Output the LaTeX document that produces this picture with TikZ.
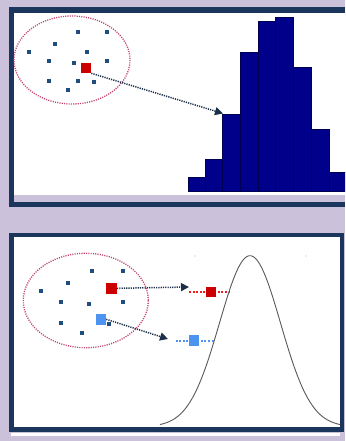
\documentclass[tikz,border=0pt]{standalone}
\usetikzlibrary{arrows.meta}
\definecolor{bgl}{HTML}{CBC1DB}
\definecolor{frame}{HTML}{1B365D}
\definecolor{dotc}{HTML}{1F4E7E}
\definecolor{ellc}{HTML}{C24470}
\definecolor{redsq}{HTML}{CC0000}
\definecolor{bluesq}{HTML}{4D94F0}
\definecolor{barc}{HTML}{00008B}
\definecolor{baredge}{HTML}{000050}
\definecolor{arr}{HTML}{1C2F4A}
\definecolor{brightred}{HTML}{F21C1C}
\tikzset{
  pt/.style={fill=dotc, draw=none, minimum size=4pt, inner sep=0pt, outer sep=0pt, rectangle},
  bigsq/.style={draw=none, minimum size=10.5pt, inner sep=0pt, outer sep=0pt, rectangle},
  ell/.style={draw=ellc, line width=1.3pt, dash pattern=on 1.1pt off 1.2pt},
  link/.style={draw=arr, line width=1.5pt, dash pattern=on 1.2pt off 1.1pt, -{Triangle[length=8pt,width=8pt]}},
  bar/.style={fill=barc, draw=baredge, line width=0.6pt},
  reddash/.style={draw=brightred, line width=2pt, dash pattern=on 2pt off 1.6pt},
  bluedash/.style={draw=bluesq, line width=2pt, dash pattern=on 2pt off 1.6pt}
}
\begin{document}
\begin{tikzpicture}[x=1pt,y=-1pt]
\useasboundingbox (0,0) rectangle (345,441);
\fill[bgl] (0,0) rectangle (345,441);
% ---------- top panel ----------
\fill[frame] (9,7) rectangle (14,206.7);
\fill[frame] (9,7) rectangle (345,12.7);
\fill[frame] (9,201.7) rectangle (345,206.7);
\fill[white] (14,12.7) rectangle (345,195);
\draw[ell] (72,60) ellipse [x radius=58, y radius=44];
\foreach \x/\y in {77.7/32.3,106.7/32.3,55/43.7,29.3/51.7,87.3/51.7,48.7/61.3,74.3/63,106.7/61.3,48.7/80.7,77.7/80.7,93.7/82.3,68/90.3}
  \node[pt] at (\x,\y) {};
\node[bigsq, fill=redsq] (r1) at (86,68) {};
% histogram
\begin{scope}
\clip (14,12.7) rectangle (345,195);
\foreach \a/\b/\t in {188.3/205/177.7, 205/222.7/159, 222.7/240.7/114.3, 240.7/258.7/52.3, 258.7/275.3/21.7, 275.3/293.3/17.3, 293.3/311.3/67.7, 311.3/329.3/129.3, 329.3/348/172.3}
  \draw[bar] (\a,191) rectangle (\b,\t);
\end{scope}
\coordinate (h1) at (223,113.5);
\draw[link] (r1.south east) -- (h1);
% ---------- bottom panel ----------
\fill[frame] (9,232.7) rectangle (344,431.7);
\fill[white] (14,237.3) rectangle (340,426.7);
\fill[white] (11,433.3) rectangle (340,436);
\draw[ell] (85.8,300.5) ellipse [x radius=62.5, y radius=47.2];
\foreach \x/\y in {92.3/271,123.3/271,68/283,40.7/291.3,61.3/302,88.7/303.7,123.3/302,61.3/322.7,109.3/324.3,82/333}
  \node[pt] at (\x,\y) {};
\node[bigsq, fill=redsq] (r2) at (111.7,288.3) {};
\node[bigsq, fill=bluesq] (b2) at (101,319.3) {};
\begin{scope}
\clip (14,237.3) rectangle (340,426.7);
\draw[gray!70!black, line width=0.9pt] plot[domain=160:340, samples=120, smooth] (\x,{426.7-171*exp(-((\x-250)^2)/(2*30.5^2))});
\end{scope}
\fill[gray!60] (195,256) circle (0.7);
\fill[gray!60] (306,256) circle (0.7);
\coordinate (ra) at (189,287);
\coordinate (ba) at (168,339);
\draw[link] (r2.east) -- (ra);
\draw[link] (b2.east) -- (ba);
\coordinate (rl1) at (189,291.5);
\coordinate (rl2) at (229,291.5);
\coordinate (bl1) at (175.5,340.7);
\coordinate (bl2) at (215,340.7);
\draw[reddash] (rl1) -- (rl2);
\draw[bluedash] (bl1) -- (bl2);
\node[bigsq, fill=redsq] (r3) at (211,292) {};
\node[bigsq, fill=bluesq] (b3) at (194,340.3) {};
\end{tikzpicture}
\end{document}
